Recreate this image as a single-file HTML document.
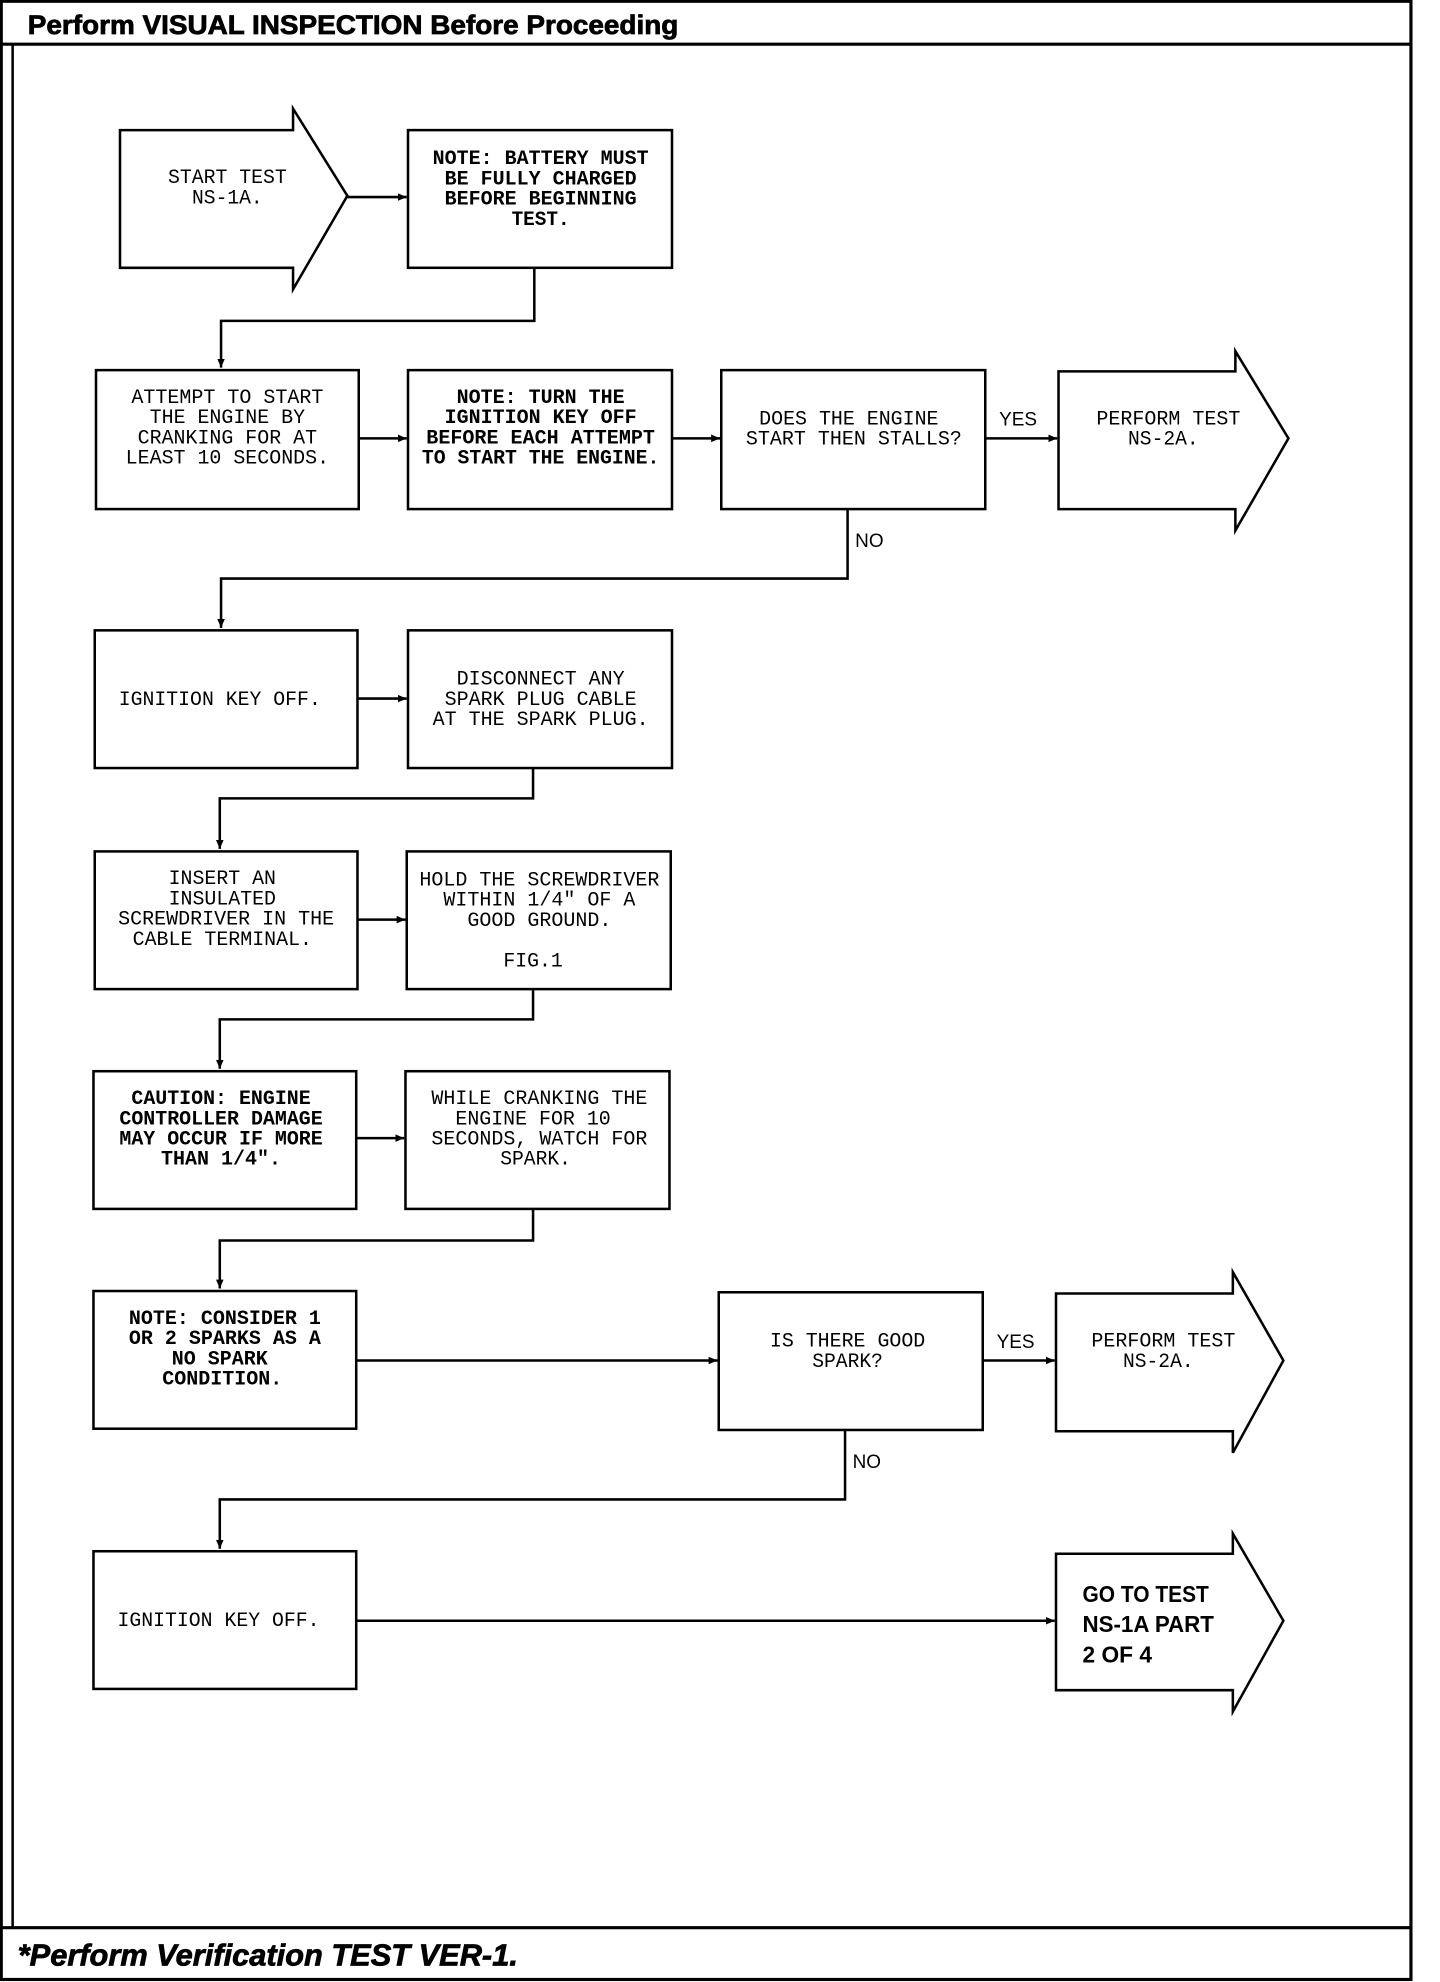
<!DOCTYPE html>
<html><head><meta charset="utf-8"><style>
html,body{margin:0;padding:0;background:#fff;width:1440px;height:1982px;overflow:hidden}
svg{display:block}
.t{font-family:"Liberation Mono",monospace;font-size:16px;fill:#000;text-anchor:middle}
.b{font-weight:bold}
.s{fill:none;stroke:#000;stroke-width:2}
.bx{fill:#fff;stroke:#000;stroke-width:2}
</style></head><body>
<svg width="1440" height="1982" viewBox="0 0 1140 1569" preserveAspectRatio="none" xmlns="http://www.w3.org/2000/svg">
<defs><marker id="a" markerWidth="8" markerHeight="8" refX="7" refY="4" orient="auto" markerUnits="userSpaceOnUse"><path d="M0,1 L7,4 L0,7 z" fill="#000"/></marker></defs>
<rect x="1" y="1" width="1116" height="1566" fill="none" stroke="#000" stroke-width="2.5"/>
<line x1="1" y1="35" x2="1117" y2="35" stroke="#000" stroke-width="2.5"/>
<line x1="10" y1="35" x2="10" y2="1526" stroke="#000" stroke-width="2"/>
<line x1="1" y1="1526" x2="1117" y2="1526" stroke="#000" stroke-width="2.5"/>
<text x="22" y="27" font-family="Liberation Sans,sans-serif" font-weight="bold" font-size="21" stroke="#000" stroke-width="0.6" textLength="515" lengthAdjust="spacingAndGlyphs">Perform VISUAL INSPECTION Before Proceeding</text>
<text x="14" y="1556" font-family="Liberation Sans,sans-serif" font-weight="bold" font-style="italic" font-size="24" stroke="#000" stroke-width="0.6" textLength="396" lengthAdjust="spacingAndGlyphs">*Perform Verification TEST VER-1.</text>

<path class="bx" d="M95,103 H232 V86 L275,155 L232,229 V212 H95 Z"/>
<rect class="bx" x="323" y="103" width="209" height="109"/>
<rect class="bx" x="76" y="293" width="208" height="110"/>
<rect class="bx" x="323" y="293" width="209" height="110"/>
<rect class="bx" x="571" y="293" width="209" height="110"/>
<path class="bx" d="M838,294 H978 V278 L1020,347 L978,420 V403 H838 Z"/>
<rect class="bx" x="75" y="499" width="208" height="109"/>
<rect class="bx" x="323" y="499" width="209" height="109"/>
<rect class="bx" x="75" y="674" width="208" height="109"/>
<rect class="bx" x="322" y="674" width="209" height="109"/>
<rect class="bx" x="74" y="848" width="208" height="109"/>
<rect class="bx" x="321" y="848" width="209" height="109"/>
<rect class="bx" x="74" y="1022" width="208" height="109"/>
<rect class="bx" x="569" y="1023" width="209" height="109"/>
<path class="bx" d="M836,1024 H976 V1007 L1016,1077 L976,1150 V1133 H836 Z"/>
<rect class="bx" x="74" y="1228" width="208" height="109"/>
<path class="bx" d="M836,1230 H976 V1214 L1016,1283 L976,1355 V1338 H836 Z"/>

<line class="s" x1="275" y1="156" x2="322" y2="156" marker-end="url(#a)"/>
<polyline class="s" points="423,212 423,254 175,254 175,291" marker-end="url(#a)"/>
<line class="s" x1="284" y1="347" x2="322" y2="347" marker-end="url(#a)"/>
<line class="s" x1="532" y1="347" x2="570" y2="347" marker-end="url(#a)"/>
<line class="s" x1="780" y1="347" x2="837" y2="347" marker-end="url(#a)"/>
<polyline class="s" points="671,403 671,458 175,458 175,497" marker-end="url(#a)"/>
<line class="s" x1="283" y1="553" x2="322" y2="553" marker-end="url(#a)"/>
<polyline class="s" points="422,608 422,632 174,632 174,672" marker-end="url(#a)"/>
<line class="s" x1="283" y1="728" x2="321" y2="728" marker-end="url(#a)"/>
<polyline class="s" points="422,783 422,807 174,807 174,846" marker-end="url(#a)"/>
<line class="s" x1="282" y1="901" x2="320" y2="901" marker-end="url(#a)"/>
<polyline class="s" points="422,957 422,982 174,982 174,1020" marker-end="url(#a)"/>
<line class="s" x1="282" y1="1077" x2="568" y2="1077" marker-end="url(#a)"/>
<line class="s" x1="778" y1="1077" x2="835" y2="1077" marker-end="url(#a)"/>
<polyline class="s" points="669,1132 669,1187 174,1187 174,1226" marker-end="url(#a)"/>
<line class="s" x1="282" y1="1283" x2="835" y2="1283" marker-end="url(#a)"/>

<g font-family="Liberation Sans,sans-serif" font-size="15">
<text x="791" y="337">YES</text>
<text x="677" y="433">NO</text>
<text x="789" y="1067">YES</text>
<text x="675" y="1162">NO</text>
</g>

<g class="t">
<text x="180" y="145" textLength="94" lengthAdjust="spacingAndGlyphs">START TEST</text>
<text x="180" y="161" textLength="56" lengthAdjust="spacingAndGlyphs">NS-1A.</text>
<g class="b">
<text x="428" y="130" textLength="171" lengthAdjust="spacingAndGlyphs">NOTE: BATTERY MUST</text>
<text x="428" y="146" textLength="152" lengthAdjust="spacingAndGlyphs">BE FULLY CHARGED</text>
<text x="428" y="162" textLength="152" lengthAdjust="spacingAndGlyphs">BEFORE BEGINNING</text>
<text x="428" y="178" textLength="46" lengthAdjust="spacingAndGlyphs">TEST.</text>
</g>
<text x="180" y="319" textLength="152" lengthAdjust="spacingAndGlyphs">ATTEMPT TO START</text>
<text x="180" y="335" textLength="123" lengthAdjust="spacingAndGlyphs">THE ENGINE BY</text>
<text x="180" y="351" textLength="142" lengthAdjust="spacingAndGlyphs">CRANKING FOR AT</text>
<text x="180" y="367" textLength="161" lengthAdjust="spacingAndGlyphs">LEAST 10 SECONDS.</text>
<g class="b">
<text x="428" y="319" textLength="133" lengthAdjust="spacingAndGlyphs">NOTE: TURN THE</text>
<text x="428" y="335" textLength="152" lengthAdjust="spacingAndGlyphs">IGNITION KEY OFF</text>
<text x="428" y="351" textLength="181" lengthAdjust="spacingAndGlyphs">BEFORE EACH ATTEMPT</text>
<text x="428" y="367" textLength="188" lengthAdjust="spacingAndGlyphs">TO START THE ENGINE.</text>
</g>
<text x="672" y="336" textLength="142" lengthAdjust="spacingAndGlyphs">DOES THE ENGINE</text>
<text x="676" y="352" textLength="171" lengthAdjust="spacingAndGlyphs">START THEN STALLS?</text>
<text x="925" y="336" textLength="114" lengthAdjust="spacingAndGlyphs">PERFORM TEST</text>
<text x="921" y="352" textLength="56" lengthAdjust="spacingAndGlyphs">NS-2A.</text>

<text x="174" y="558" textLength="160" lengthAdjust="spacingAndGlyphs">IGNITION KEY OFF.</text>
<text x="428" y="542" textLength="133" lengthAdjust="spacingAndGlyphs">DISCONNECT ANY</text>
<text x="428" y="558" textLength="152" lengthAdjust="spacingAndGlyphs">SPARK PLUG CABLE</text>
<text x="428" y="574" textLength="171" lengthAdjust="spacingAndGlyphs">AT THE SPARK PLUG.</text>

<text x="176" y="700" textLength="85" lengthAdjust="spacingAndGlyphs">INSERT AN</text>
<text x="176" y="716" textLength="85" lengthAdjust="spacingAndGlyphs">INSULATED</text>
<text x="179" y="732" textLength="171" lengthAdjust="spacingAndGlyphs">SCREWDRIVER IN THE</text>
<text x="176" y="748" textLength="142" lengthAdjust="spacingAndGlyphs">CABLE TERMINAL.</text>
<text x="427" y="701" textLength="190" lengthAdjust="spacingAndGlyphs">HOLD THE SCREWDRIVER</text>
<text x="427" y="717" textLength="152" lengthAdjust="spacingAndGlyphs">WITHIN 1/4" OF A</text>
<text x="427" y="733" textLength="114" lengthAdjust="spacingAndGlyphs">GOOD GROUND.</text>
<text x="422" y="765" textLength="47" lengthAdjust="spacingAndGlyphs">FIG.1</text>

<g class="b">
<text x="175" y="874" textLength="142" lengthAdjust="spacingAndGlyphs">CAUTION: ENGINE</text>
<text x="175" y="890" textLength="161" lengthAdjust="spacingAndGlyphs">CONTROLLER DAMAGE</text>
<text x="175" y="906" textLength="161" lengthAdjust="spacingAndGlyphs">MAY OCCUR IF MORE</text>
<text x="175" y="922" textLength="95" lengthAdjust="spacingAndGlyphs">THAN 1/4".</text>
</g>
<text x="427" y="874" textLength="171" lengthAdjust="spacingAndGlyphs">WHILE CRANKING THE</text>
<text x="422" y="890" textLength="123" lengthAdjust="spacingAndGlyphs">ENGINE FOR 10</text>
<text x="427" y="906" textLength="171" lengthAdjust="spacingAndGlyphs">SECONDS, WATCH FOR</text>
<text x="424" y="922" textLength="56" lengthAdjust="spacingAndGlyphs">SPARK.</text>

<g class="b">
<text x="178" y="1048" textLength="152" lengthAdjust="spacingAndGlyphs">NOTE: CONSIDER 1</text>
<text x="178" y="1064" textLength="152" lengthAdjust="spacingAndGlyphs">OR 2 SPARKS AS A</text>
<text x="174" y="1080" textLength="76" lengthAdjust="spacingAndGlyphs">NO SPARK</text>
<text x="176" y="1096" textLength="95" lengthAdjust="spacingAndGlyphs">CONDITION.</text>
</g>
<text x="671" y="1066" textLength="123" lengthAdjust="spacingAndGlyphs">IS THERE GOOD</text>
<text x="671" y="1082" textLength="56" lengthAdjust="spacingAndGlyphs">SPARK?</text>
<text x="921" y="1066" textLength="114" lengthAdjust="spacingAndGlyphs">PERFORM TEST</text>
<text x="917" y="1082" textLength="56" lengthAdjust="spacingAndGlyphs">NS-2A.</text>

<text x="173" y="1287" textLength="160" lengthAdjust="spacingAndGlyphs">IGNITION KEY OFF.</text>
</g>
<g font-family="Liberation Sans,sans-serif" font-size="18" font-weight="bold">
<text x="857" y="1268" textLength="100" lengthAdjust="spacingAndGlyphs">GO TO TEST</text>
<text x="857" y="1292" textLength="104" lengthAdjust="spacingAndGlyphs">NS-1A PART</text>
<text x="857" y="1316" textLength="55" lengthAdjust="spacingAndGlyphs">2 OF 4</text>
</g>
</svg>
</body></html>
